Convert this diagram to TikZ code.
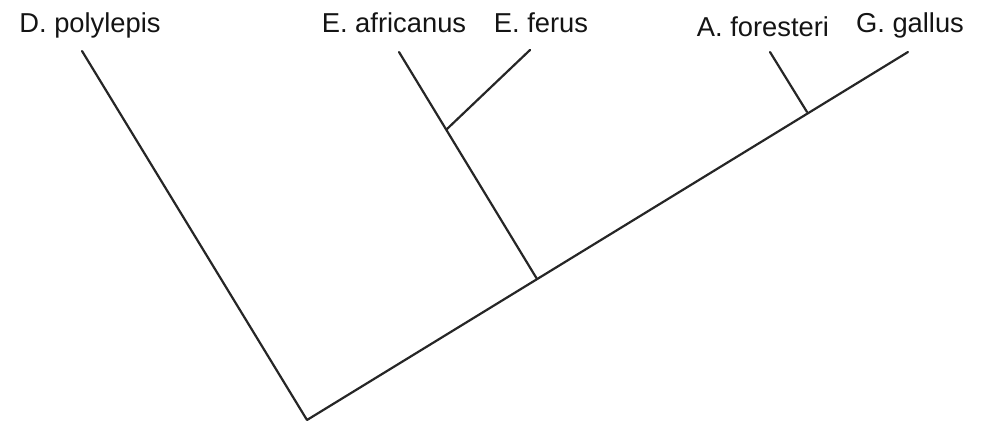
\documentclass[tikz,border=0pt]{standalone}
\usepackage{fontspec}
\setmainfont{Liberation Sans}
\begin{document}
\begin{tikzpicture}[x=0.75pt,y=-0.75pt,
  branch/.style={draw=black!85,line width=1.65pt,line cap=round,line join=round},
  taxon/.style={anchor=base,inner sep=0pt,font=\fontsize{20.5}{24}\selectfont,text=black!92}]
\useasboundingbox (0,0) rectangle (997,423);
% coordinates
\coordinate (root) at (307,420);
\coordinate (dp) at (82,51);
\coordinate (gg) at (908,52);
\coordinate (n1) at (537,279);
\coordinate (ea) at (399,52);
\coordinate (n2) at (447,129);
\coordinate (ef) at (530,50);
\coordinate (n3) at (807,112);
\coordinate (af) at (770,52);
% labels
\node[taxon] (Ldp) at (90,33) {D. polylepis};
\node[taxon] (Lea) at (394,33) {E. africanus};
\node[taxon] (Lef) at (541,33) {E. ferus};
\node[taxon] (Laf) at (763,37) {A. foresteri};
\node[taxon] (Lgg) at (910,33) {G. gallus};
% branches
\draw[branch] (dp) -- (root) -- (gg);
\draw[branch] (n1) -- (ea);
\draw[branch] (n2) -- (ef);
\draw[branch] (n3) -- (af);
\end{tikzpicture}
\end{document}
